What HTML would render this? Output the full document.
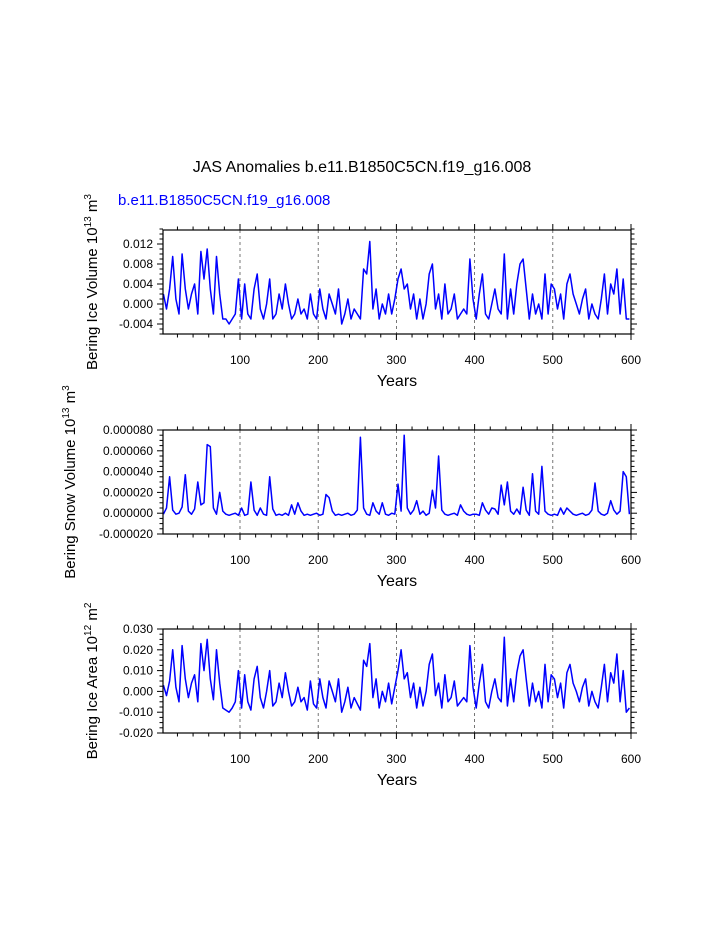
<!DOCTYPE html>
<html><head><meta charset="utf-8"><style>
body{margin:0;background:#fff;}
svg{display:block;font-family:"Liberation Sans",sans-serif;}
</style></head><body>
<svg id="c" width="723" height="935">
<text x="362" y="172" font-size="16" text-anchor="middle">JAS Anomalies b.e11.B1850C5CN.f19_g16.008</text>
<text x="118" y="205" font-size="15" fill="#0000ff">b.e11.B1850C5CN.f19_g16.008</text>
</svg>
<script>
const iceVolume = [2,-1,3,9.5,1,-2,10,3,-1,2,4,-2,10.5,5,11,3,-2,9.5,2,-3,-3,-4,-3,-2,5,
-3,4,-2,-3,3,6,-1,-3,0,5,-3,-2,2,-1,4,0,-3,-2,1,-2,-1,-3,2,-2,-3,
3,-1,-3,2,0,-2,3,-4,-2,1,-3,-1,-2,-3,7,6,12.5,-1,3,-3,0,-2,2,-2,1,
5,7,3,4,-1,2,-3,1,-3,0,6,8,-1,2,-3,4,-2,-1,2,-3,-2,-1,-2,9,1,
-3,2,6,-2,-3,0,3,-1,-2,10,-3,3,-2,4,8,9,3,-3,2,-2,0,-3,6,-2,4,
3,-1,2,-3,4,6,2,0,-2,1,3,-3,0,-2,-3,1,6,-2,4,2,7,-2,5,-3,-3];
const snowVolume = [-1,5,35,3,-1,0,6,37,2,-1,4,30,8,10,66,64,5,-1,20,2,
-1,-2,-1,0,-2,5,-2,-1,30,3,-2,5,-1,-2,35,4,-2,-1,-2,0,
-2,8,-1,10,2,-2,-1,-2,-1,0,-2,-1,18,15,2,-2,-1,-2,-1,0,
-2,-1,3,73,5,-1,-2,10,2,-1,10,-1,-2,0,-1,28,2,75,5,-1,
3,12,-1,2,-2,0,22,5,55,3,-1,-2,-1,0,-2,8,2,-1,-2,-1,
-1,-2,10,3,-1,5,4,-1,27,8,30,2,-1,4,-1,25,3,-2,38,2,
-1,45,2,-1,-2,-1,-2,5,-1,5,2,-1,-2,-1,0,-2,-1,3,29,2,
-1,-2,0,12,3,-1,2,40,35,-1];
const iceArea = [3,-2,5,20,2,-5,22,6,-3,4,8,-5,23,10,25,6,-4,20,4,-8,-9,-10,-8,-5,10,
-8,8,-5,-9,6,12,-3,-8,0,10,-7,-5,4,-3,9,0,-7,-5,2,-5,-3,-9,5,-6,-8,
6,-3,-8,5,0,-5,6,-10,-5,2,-8,-3,-6,-9,15,12,23,-3,6,-8,0,-5,4,-6,2,
10,20,6,9,-3,4,-8,2,-7,0,13,18,-2,4,-8,8,-5,-3,5,-7,-5,-3,-5,22,2,
-8,4,13,-5,-8,0,6,-3,-5,26,-7,6,-5,9,17,20,6,-7,4,-5,0,-8,13,-5,8,
6,-3,4,-8,9,13,4,0,-5,2,6,-7,0,-5,-8,2,13,-5,9,4,18,-5,10,-10,-8];
const xTicks = [100,200,300,400,500,600];
const yTicks1 = ["0.012","0.008","0.004","0.000","-0.004"];
const yTicks2 = ["0.000080","0.000060","0.000040","0.000020","0.000000","-0.000020"];
const yTicks3 = ["0.030","0.020","0.010","0.000","-0.010","-0.020"];

const svg=document.getElementById('c');
const NS='http://www.w3.org/2000/svg';
function mk(t,a,p){const e=document.createElementNS(NS,t);for(const k in a)e.setAttribute(k,a[k]);(p||svg).appendChild(e);return e;}
const X0=163,X1=631;
const xs=yr=>161.8+yr*0.782;

function panel(name,top,bottom,ymin,ymax,scale,data,ticks,major,minor,labelX,labelMain,exp,unit){
  const g=mk('g',{});
  
  
  const ys=v=>bottom-(v-ymin)/(ymax-ymin)*(bottom-top);
  xTicks.slice(0,5).forEach(t=>{const l=mk('line',{x1:xs(t),x2:xs(t),y1:top,y2:bottom,stroke:'#555','stroke-width':0.8,'stroke-dasharray':'3,3'},g);
    });
  let d='';
  data.forEach((v,i)=>{const yr=2+i*4;d+=(i?'L':'M')+xs(yr).toFixed(1)+' '+ys(v*scale).toFixed(1);});
  const p=mk('path',{d:d,fill:'none',stroke:'#0000ff','stroke-width':1.5,'stroke-linejoin':'round'},g);
  
  mk('rect',{x:X0,y:top,width:X1-X0,height:bottom-top,fill:'none',stroke:'#000','stroke-width':1.2},g);
  for(let yr=20;yr<=600;yr+=20){const maj=yr%100===0;const L=maj?6:3.5;
    mk('line',{x1:xs(yr),x2:xs(yr),y1:bottom,y2:bottom+L,stroke:'#000','stroke-width':1},g);
    mk('line',{x1:xs(yr),x2:xs(yr),y1:top,y2:top-L,stroke:'#000','stroke-width':1},g);}
  xTicks.forEach(t=>{const tx=mk('text',{x:xs(t),y:bottom+30,'font-size':12,'text-anchor':'middle'},g);tx.textContent=t;
    });
  const n=Math.round((ymax-ymin)/minor);
  for(let i=0;i<=n;i++){const v=ymin+i*minor;const isMaj=Math.abs(v/major-Math.round(v/major))<1e-6;const L=isMaj?6:3.5;
    mk('line',{x1:X0,x2:X0-L,y1:ys(v),y2:ys(v),stroke:'#000','stroke-width':1},g);
    mk('line',{x1:X1,x2:X1+L,y1:ys(v),y2:ys(v),stroke:'#000','stroke-width':1},g);}
  ticks.forEach(t=>{const v=parseFloat(t);if(v>ymax+1e-12||v<ymin-1e-12)return;const tx=mk('text',{x:X0-10,y:ys(v)+4,'font-size':12,'text-anchor':'end'},g);tx.textContent=t;
    });
  const xt=mk('text',{x:397,y:bottom+52,'font-size':16,'text-anchor':'middle'},g);xt.textContent='Years';
  
  const cy=(top+bottom)/2;
  const yt=mk('text',{x:0,y:0,'font-size':15,'text-anchor':'middle',transform:`translate(${labelX},${cy}) rotate(-90)`},g);
  
  const a=mk('tspan',{},yt);a.textContent=labelMain+' 10';
  const b=mk('tspan',{dy:-6,'font-size':10},yt);b.textContent=exp;
  const c=mk('tspan',{dy:6},yt);c.textContent=' m';
  const e=mk('tspan',{dy:-6,'font-size':10},yt);e.textContent=unit;
}
panel('ice-volume-panel',230,334,-0.006,0.0148,0.001,iceVolume,yTicks1,0.004,0.001,97,'Bering Ice Volume','13','3');
panel('snow-volume-panel',430,534,-0.00002,0.00008,0.000001,snowVolume,yTicks2,0.00002,0.000005,75,'Bering Snow Volume','13','3');
panel('ice-area-panel',629,733,-0.02,0.03,0.001,iceArea,yTicks3,0.01,0.0025,97,'Bering Ice Area','12','2');
</script>
</body></html>
